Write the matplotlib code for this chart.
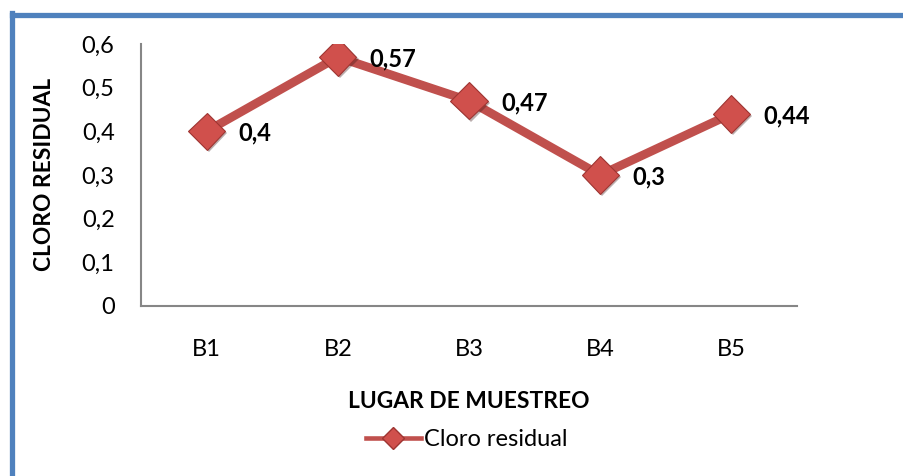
import matplotlib
matplotlib.use("Agg")
import matplotlib.pyplot as plt
from matplotlib.lines import Line2D
import matplotlib.patheffects as pe

categories = ["B1", "B2", "B3", "B4", "B5"]
values = [0.4, 0.57, 0.47, 0.3, 0.44]
value_labels = ["0,4", "0,57", "0,47", "0,3", "0,44"]
yticks = [0, 0.1, 0.2, 0.3, 0.4, 0.5, 0.6]
ytick_labels = ["0", "0,1", "0,2", "0,3", "0,4", "0,5", "0,6"]
series_name = "Cloro residual"
x_title = "LUGAR DE MUESTREO"
y_title = "CLORO RESIDUAL"

FONT = ["Lato", "DejaVu Sans"]
plt.rcParams["font.family"] = FONT

W, H = 904, 476
fig = plt.figure(figsize=(W / 100, H / 100), dpi=100)
fig.patch.set_facecolor("white")

# plot area in pixels
left_px, right_px, top_px, bottom_px = 141, 797, 44, 306
ax = fig.add_axes([left_px / W, 1 - bottom_px / H,
                   (right_px - left_px) / W, (bottom_px - top_px) / H])

xs = list(range(len(categories)))
red = "#C0504D"
ax.plot(xs, values, color=red, lw=6.3, solid_capstyle="butt", zorder=3)
ax.plot(xs, values, linestyle="none", marker="D", ms=19,
        markerfacecolor="#D0504C", markeredgecolor="#9E3532", markeredgewidth=0.8,
        zorder=4,
        path_effects=[pe.SimplePatchShadow(offset=(1.5, -1.5), alpha=0.35), pe.Normal()])

for x, v, lab in zip(xs, values, value_labels):
    ax.annotate(lab, (x, v), xytext=(23, -1.5), textcoords="offset points",
                ha="left", va="center", fontsize=17, fontweight="bold",
                color="black", zorder=5)

ax.set_xlim(-0.5, len(categories) - 0.5)
ax.set_ylim(0, 0.6)
ax.set_xticks(xs)
ax.set_xticklabels(categories, fontsize=17)
ax.set_yticks(yticks)
ax.set_yticklabels(ytick_labels, fontsize=17)
ax.tick_params(axis="both", length=0)
ax.tick_params(axis="x", pad=24)
ax.tick_params(axis="y", pad=19)

for s in ["top", "right"]:
    ax.spines[s].set_visible(False)
for s in ["left", "bottom"]:
    ax.spines[s].set_color("#868686")
    ax.spines[s].set_linewidth(1.5)

fig.text(45 / W, 1 - 174 / H, y_title, rotation=90, ha="center", va="center",
         fontsize=16.4, fontweight="bold")
fig.text(469 / W, 1 - 401 / H, x_title, ha="center", va="center",
         fontsize=16.4, fontweight="bold")

# legend
leg = fig.legend(handles=[Line2D([0], [0], color=red, lw=3.3, marker="D", ms=11.5,
                                 markerfacecolor="#D0504C", markeredgecolor="#9E3532")],
                 labels=[series_name], loc="center", bbox_to_anchor=(467 / W, 1 - 440 / H),
                 frameon=False, fontsize=17, handlelength=2.3, handletextpad=0.15)

# outer frame (left and top edges visible)
fig.add_artist(Line2D([11.5 / W, 11.5 / W], [0, 1 - 13 / H], color="#4F81BD", lw=3.8,
                      transform=fig.transFigure, solid_capstyle="projecting"))
fig.add_artist(Line2D([11.5 / W, 1], [1 - 15 / H, 1 - 15 / H], color="#4F81BD", lw=3.8,
                      transform=fig.transFigure))

fig.savefig("out.png", dpi=100)
